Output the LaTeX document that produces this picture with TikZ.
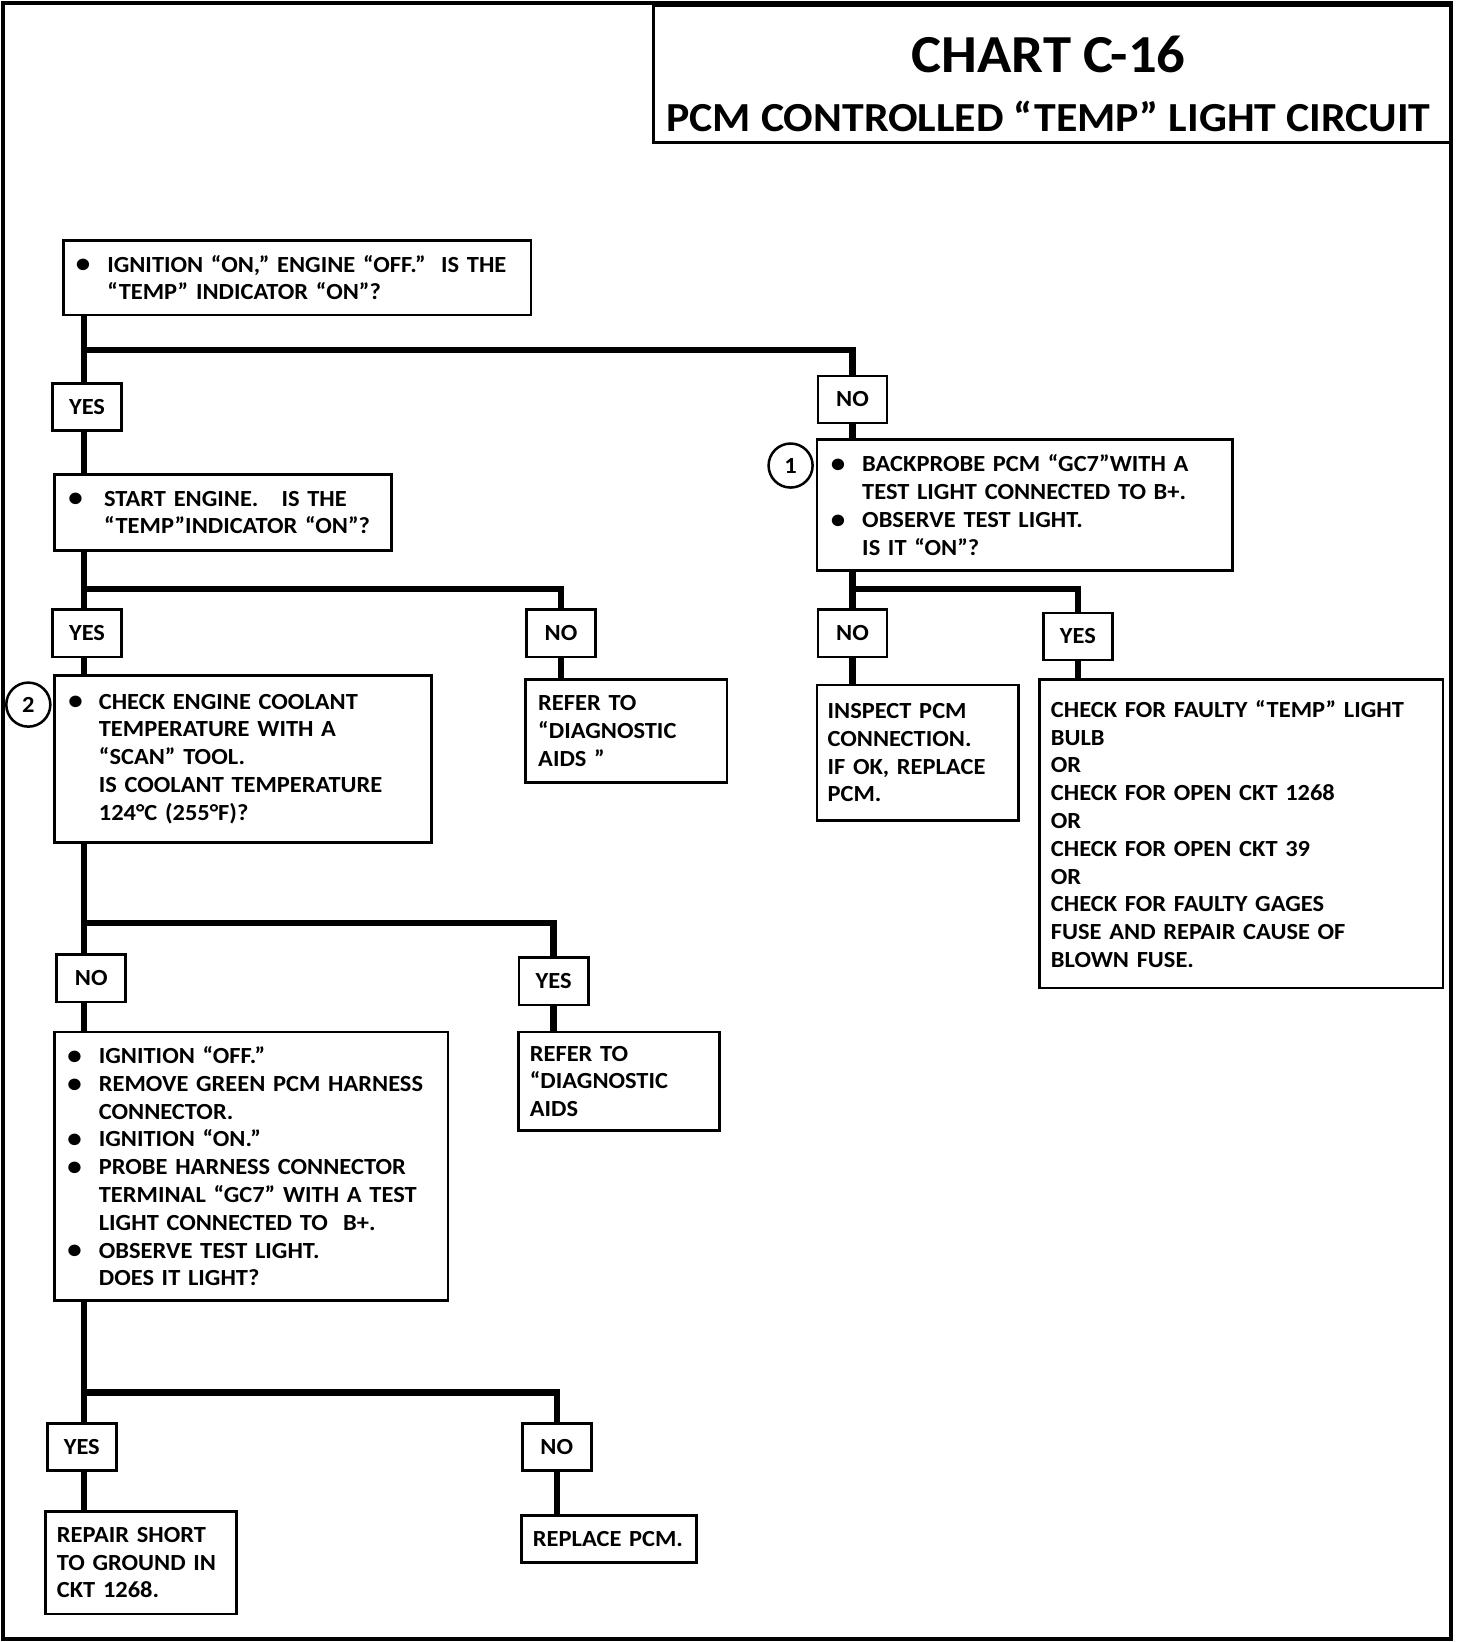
\documentclass[tikz,border=0pt]{standalone}
\usepackage{fontspec}
\setmainfont{Carlito}[FakeStretch=1.06]
\newcommand{\chartfont}{\bfseries\fontsize{11}{13.25}\selectfont}
\newcommand{\dotat}[1]{\makebox[#1][l]{\smash{\raisebox{-0.3pt}{\fontsize{13}{13}\selectfont\textbullet}}}}
\newcommand{\gap}[1]{\hspace*{#1}}
\tikzstyle{box}=[draw,line width=1.3pt,anchor=north west,align=left,inner ysep=2pt,font=\chartfont]
\tikzstyle{answer}=[draw,line width=1.3pt,minimum width=33pt,minimum height=22.5pt,inner sep=0pt,font=\chartfont]
\tikzstyle{marker}=[draw,circle,line width=1.2pt,fill=white,minimum size=21pt,inner sep=0pt,font=\chartfont]
\tikzstyle{conn}=[line width=3pt]

\begin{document}
\begin{tikzpicture}[x=0.5pt,y=-0.5pt]
    \useasboundingbox (0,0) rectangle (1404,1566);
    \draw[line width=2pt] (3,3) rectangle (1384,1563);
    \draw[line width=1.5pt] (623,5) rectangle (1383,136);
    \node (chart) at (1000,52) {\bfseries\fontsize{25.5}{30}\selectfont CHART C-16};
    \node (circuit) at (1000,111) {\bfseries\fontsize{19.7}{24}\selectfont PCM CONTROLLED “TEMP” LIGHT CIRCUIT};
    % questions and actions
    \node (q1)[box,minimum width=223pt,minimum height=35.5pt,text width=211pt,inner xsep=6pt] at (59,228)
        {\dotat{15pt}IGNITION “ON,” ENGINE “OFF.”\ \ IS THE\\\gap{15pt}“TEMP” INDICATOR “ON”?};
    \node (q2)[box,minimum width=160.5pt,minimum height=36.5pt,text width=147.5pt,inner xsep=6.5pt] at (51,451)
        {\dotat{17pt}START ENGINE.\ \ \ IS THE\\\gap{17pt}“TEMP”INDICATOR “ON”?};
    \node (q3)[box,minimum width=198pt,minimum height=62.5pt,text width=185pt,inner xsep=6.5pt] at (778,418)
        {\dotat{15pt}BACKPROBE PCM “GC7”WITH A\\\gap{15pt}TEST LIGHT CONNECTED TO B+.\\
         \dotat{15pt}OBSERVE TEST LIGHT.\\\gap{15pt}IS IT “ON”?};
    \node (q4)[box,minimum width=179.5pt,minimum height=79.5pt,text width=166.5pt,inner xsep=6.5pt] at (51,643)
        {\dotat{14.5pt}CHECK ENGINE COOLANT\\\gap{14.5pt}TEMPERATURE WITH A\\\gap{14.5pt}“SCAN” TOOL.\\
         \gap{14.5pt}IS COOLANT TEMPERATURE\\\gap{14.5pt}124°C (255°F)?};
    \node (q5)[box,minimum width=187.5pt,minimum height=128pt,text width=175.5pt,inner xsep=6pt] at (51,983)
        {\dotat{15pt}IGNITION “OFF.”\\\dotat{15pt}REMOVE GREEN PCM HARNESS\\\gap{15pt}CONNECTOR.\\
         \dotat{15pt}IGNITION “ON.”\\\dotat{15pt}PROBE HARNESS CONNECTOR\\\gap{15pt}TERMINAL “GC7” WITH A TEST\\
         \gap{15pt}LIGHT CONNECTED TO\ \ B+.\\\dotat{15pt}OBSERVE TEST LIGHT.\\\gap{15pt}DOES IT LIGHT?};
    \node (refer1)[box,minimum width=96pt,minimum height=49pt,text width=84pt,inner xsep=6pt] at (500,647)
        {REFER TO\\“DIAGNOSTIC\\AIDS ”};
    \node (inspect)[box,minimum width=96pt,minimum height=64.5pt,text width=86pt,inner xsep=5pt] at (778,652)
        {INSPECT PCM\\CONNECTION.\\IF OK, REPLACE\\PCM.};
    \node (faulty)[box,minimum width=192.5pt,minimum height=147pt,text width=181.5pt,inner xsep=5.5pt] at (990,647)
        {CHECK FOR FAULTY “TEMP” LIGHT\\BULB\\OR\\CHECK FOR OPEN CKT 1268\\OR\\CHECK FOR OPEN CKT 39\\OR\\
         CHECK FOR FAULTY GAGES\\FUSE AND REPAIR CAUSE OF\\BLOWN FUSE.};
    \node (refer2)[box,minimum width=96pt,minimum height=47pt,text width=85pt,inner xsep=5.5pt] at (493,983)
        {REFER TO\\“DIAGNOSTIC\\AIDS};
    \node (repair)[box,minimum width=91pt,minimum height=49pt,text width=80pt,inner xsep=5.5pt] at (42,1440)
        {REPAIR SHORT\\TO GROUND IN\\CKT 1268.};
    \node (replace)[box,minimum width=83.5pt,minimum height=22.5pt,text width=72.5pt,inner xsep=5.5pt] at (496,1444)
        {REPLACE PCM.};
    \node (one)[marker] at (754,444) {1};
    \node (two)[marker] at (27,672) {2};
    % answers
    \node (yes1)[answer] at (83,388) {YES};
    \node (no1)[answer] at (813,381) {NO};
    \node (yes2)[answer] at (83,604) {YES};
    \node (no2)[answer] at (535,604) {NO};
    \node (no3)[answer] at (813,604) {NO};
    \node (yes3)[answer] at (1028,607) {YES};
    \node (no4)[answer] at (87,933) {NO};
    \node (yes4)[answer] at (528,936) {YES};
    \node (yes5)[answer] at (78,1380) {YES};
    \node (no5)[answer] at (531,1380) {NO};
    % branch points
    \coordinate (s1) at (80,334);
    \coordinate (s2) at (80,562);
    \coordinate (s3) at (813,562);
    \coordinate (s4) at (80,880);
    \coordinate (s5) at (80,1328);
    % connectors
    \draw[conn] (q1.south -| s1) -- (yes1.north -| s1);
    \draw[conn] (s1) -| (no1.north);
    \draw[conn] (yes1.south -| s1) -- (q2.north -| s1);
    \draw[conn] (no1.south) -- (no1.south |- q3.north);
    \draw[conn] (q2.south -| s2) -- (yes2.north -| s2);
    \draw[conn] (s2) -| (no2.north);
    \draw[conn] (yes2.south -| s2) -- (q4.north -| s2);
    \draw[conn] (no2.south) -- (no2.south |- refer1.north);
    \draw[conn] (q3.south -| s3) -- (no3.north -| s3);
    \draw[conn] (s3) -| (yes3.north);
    \draw[conn] (no3.south) -- (no3.south |- inspect.north);
    \draw[conn] (yes3.south) -- (yes3.south |- faulty.north);
    \draw[conn] (q4.south -| s4) -- (no4.north -| s4);
    \draw[conn] (s4) -| (yes4.north);
    \draw[conn] (no4.south -| s4) -- (q5.north -| s4);
    \draw[conn] (yes4.south) -- (yes4.south |- refer2.north);
    \draw[conn] (q5.south -| s5) -- (yes5.north -| s5);
    \draw[conn] (s5) -| (no5.north);
    \draw[conn] (yes5.south -| s5) -- (repair.north -| s5);
    \draw[conn] (no5.south) -- (no5.south |- replace.north);
\end{tikzpicture}
\end{document}
